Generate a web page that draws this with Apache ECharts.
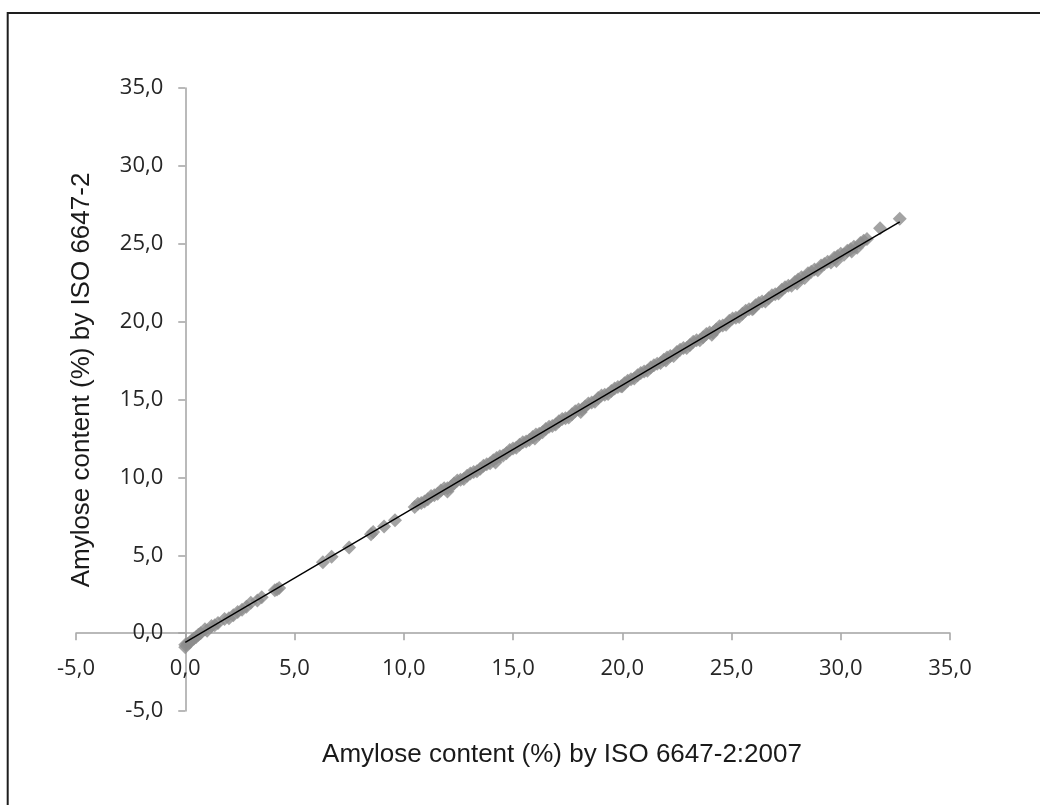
<!DOCTYPE html>
<html>
<head>
<meta charset="utf-8">
<script src="https://cdn.jsdelivr.net/npm/echarts@6/dist/echarts.min.js"></script>
<style>
  html, body { margin: 0; padding: 0; background: #ffffff; }
  #chart { width: 1040px; height: 805px; }
</style>
</head>
<body>
<div id="chart"></div>
<script>
// ---- data ----
const xTitle = 'Amylose content (%) by ISO 6647-2:2007';
const yTitle = 'Amylose content (%) by ISO 6647-2';
const axisMin = -5;
const axisMax = 35;
const axisStep = 5;

// sparse low-range samples (x: ISO 6647-2:2007, y: ISO 6647-2)
const lowX = [0.0, 0.1, 0.3, 0.5, 0.7, 0.9, 1.2, 1.5, 1.8, 2.2, 2.6, 3.0, 3.5, 4.1, 4.3, 6.3, 6.7, 7.5, 8.5, 8.6, 9.1, 9.6,
  0.0, 0.2, 0.4, 0.6, 1.0, 1.35, 2.0, 2.4, 2.8, 3.3, 4.2];
const lowY = [-0.9, -0.7, -0.45, -0.25, 0.0, 0.25, 0.45, 0.65, 0.9, 1.15, 1.5, 1.95, 2.3, 2.75, 2.9, 4.55, 4.9, 5.5, 6.35, 6.5, 6.85, 7.25,
  -0.75, -0.6, -0.35, -0.1, 0.15, 0.5, 0.95, 1.35, 1.7, 2.1, 2.8];

// dense band of samples
const denseX = [10.5, 10.8, 11.1, 11.4, 11.7, 12.0, 12.3, 12.6, 12.9, 13.2, 13.5, 13.8, 14.1, 14.4, 14.7, 15.0,
  15.3, 15.6, 15.9, 16.2, 16.5, 16.8, 17.1, 17.4, 17.7, 18.0, 18.3, 18.6, 18.9, 19.2, 19.5, 19.8,
  20.1, 20.4, 20.7, 21.0, 21.3, 21.6, 21.9, 22.2, 22.5, 22.8, 23.1, 23.4, 23.7, 24.0, 24.3, 24.6,
  24.9, 25.2, 25.5, 25.8, 26.1, 26.4, 26.7, 27.0, 27.3, 27.6, 27.9, 28.2, 28.5, 28.8, 29.1, 29.4,
  29.7, 30.0, 30.3, 30.6, 30.9, 31.2, 31.8, 32.7,
  12.0, 14.2, 16.0, 18.1, 20.0, 22.0, 24.1, 26.0, 28.0, 29.8, 30.5];
const denseY = [8.1, 8.35, 8.6, 8.85, 9.15, 9.3, 9.6, 9.85, 10.1, 10.35, 10.55, 10.85, 11.1, 11.35, 11.55, 11.85,
  12.1, 12.3, 12.6, 12.8, 13.1, 13.3, 13.6, 13.8, 14.05, 14.35, 14.55, 14.8, 15.1, 15.3, 15.55, 15.8,
  16.05, 16.3, 16.55, 16.8, 17.05, 17.3, 17.55, 17.8, 18.05, 18.3, 18.5, 18.8, 19.0, 19.3, 19.5, 19.75,
  20.05, 20.25, 20.5, 20.8, 21.05, 21.3, 21.5, 21.75, 22.05, 22.3, 22.55, 22.85, 23.1, 23.35, 23.6, 23.85,
  24.1, 24.35, 24.55, 24.8, 25.05, 25.3, 26.0, 26.6,
  9.1, 10.95, 12.5, 14.2, 15.85, 17.5, 19.15, 20.85, 22.45, 23.9, 24.5];

// upper edge of the band
const upperX = [10.65, 11.25, 11.85, 12.45, 13.05, 13.65, 14.25, 14.85, 15.45, 16.05, 16.65, 17.25, 17.85, 18.45,
  19.05, 19.65, 20.25, 20.85, 21.45, 22.05, 22.65, 23.25, 23.85, 24.45, 25.05, 25.65, 26.25, 26.85,
  27.45, 28.05, 28.65, 29.25, 29.85, 30.45, 31.05];
const upperY = [8.3, 8.8, 9.3, 9.8, 10.25, 10.75, 11.25, 11.75, 12.25, 12.75, 13.25, 13.75, 14.25, 14.75,
  15.25, 15.7, 16.2, 16.7, 17.2, 17.7, 18.2, 18.7, 19.2, 19.7, 20.2, 20.7, 21.2, 21.7,
  22.2, 22.7, 23.2, 23.7, 24.2, 24.65, 25.2];

// lower edge of the band
const lowerX = [10.95, 11.55, 12.15, 12.75, 13.35, 13.95, 14.55, 15.15, 15.75, 16.35, 16.95, 17.55, 18.15, 18.75,
  19.35, 19.95, 20.55, 21.15, 21.75, 22.35, 22.95, 23.55, 24.15, 24.75, 25.35, 25.95, 26.55, 27.15,
  27.75, 28.35, 28.95, 29.55, 30.15, 30.75];
const lowerY = [8.45, 8.95, 9.4, 9.9, 10.4, 10.9, 11.4, 11.9, 12.4, 12.9, 13.4, 13.85, 14.35, 14.85,
  15.35, 15.85, 16.35, 16.85, 17.35, 17.8, 18.3, 18.8, 19.3, 19.8, 20.3, 20.8, 21.3, 21.8,
  22.3, 22.8, 23.3, 23.8, 24.3, 24.75];

// linear trend line end points
const trendX = [0.0, 32.7];
const trendY = [-0.6, 26.4];

// ---- build chart ----
const points = [];
[[lowX, lowY], [denseX, denseY], [upperX, upperY], [lowerX, lowerY]].forEach(([xs, ys]) => {
  xs.forEach((x, i) => points.push([x, ys[i]]));
});
const trend = trendX.map((x, i) => [x, trendY[i]]);

const fmt = v => v.toFixed(1).replace('.', ',');
const axisColor = '#a3a3a3';
const labelFont = { color: '#262626', fontFamily: 'Open Sans', fontSize: 22 };

const G = { left: 76, right: 90, top: 88, bottom: 94 };
const W = 1040, H = 805;
const plotW = W - G.left - G.right;
const plotH = H - G.top - G.bottom;
// move each axis line to the other axis's zero
const xAxisOffset = -plotH * (0 - axisMin) / (axisMax - axisMin);
const yAxisOffset = -plotW * (0 - axisMin) / (axisMax - axisMin);

const chart = echarts.init(document.getElementById('chart'), null, { renderer: 'canvas' });
chart.setOption({
  backgroundColor: '#ffffff',
  animation: false,
  grid: Object.assign({ containLabel: false }, G),
  xAxis: {
    type: 'value', min: axisMin, max: axisMax, interval: axisStep,
    position: 'bottom', offset: xAxisOffset,
    axisLine: { show: true, onZero: false, lineStyle: { color: axisColor, width: 1.5 } },
    axisTick: { show: true, inside: false, length: 7, lineStyle: { color: axisColor, width: 1.5 } },
    axisLabel: Object.assign({ margin: 25, formatter: fmt, showMinLabel: true, showMaxLabel: true }, labelFont),
    splitLine: { show: false }
  },
  yAxis: {
    type: 'value', min: axisMin, max: axisMax, interval: axisStep,
    position: 'left', offset: yAxisOffset,
    axisLine: { show: true, onZero: false, lineStyle: { color: axisColor, width: 1.5 } },
    axisTick: { show: true, inside: false, length: 7, lineStyle: { color: axisColor, width: 1.5 } },
    axisLabel: Object.assign({ margin: 22, formatter: fmt, showMinLabel: true, showMaxLabel: true }, labelFont),
    splitLine: { show: false }
  },
  series: [
    {
      type: 'scatter', data: points, symbol: 'diamond', symbolSize: 14,
      itemStyle: { color: '#8c8c8c' }, z: 2
    },
    {
      type: 'line', data: trend, symbol: 'none', showSymbol: false,
      lineStyle: { color: '#000000', width: 1.4 }, z: 3
    }
  ],
  graphic: [
    {
      type: 'rect', silent: true, z: 100,
      shape: { x: 7.7, y: 13, width: 1200, height: 1000 },
      style: { fill: 'none', stroke: '#1e1e1e', lineWidth: 2 }
    },
    {
      type: 'text', x: 562, y: 755, z: 100,
      style: { text: xTitle, fontFamily: 'Liberation Sans', fontSize: 26, fill: '#1a1a1a',
               textAlign: 'center', textVerticalAlign: 'middle' }
    },
    {
      type: 'text', x: 82, y: 380, rotation: Math.PI / 2, z: 100,
      style: { text: yTitle, fontFamily: 'Liberation Sans', fontSize: 26, fill: '#1a1a1a',
               textAlign: 'center', textVerticalAlign: 'middle' }
    }
  ]
});
</script>
</body>
</html>
